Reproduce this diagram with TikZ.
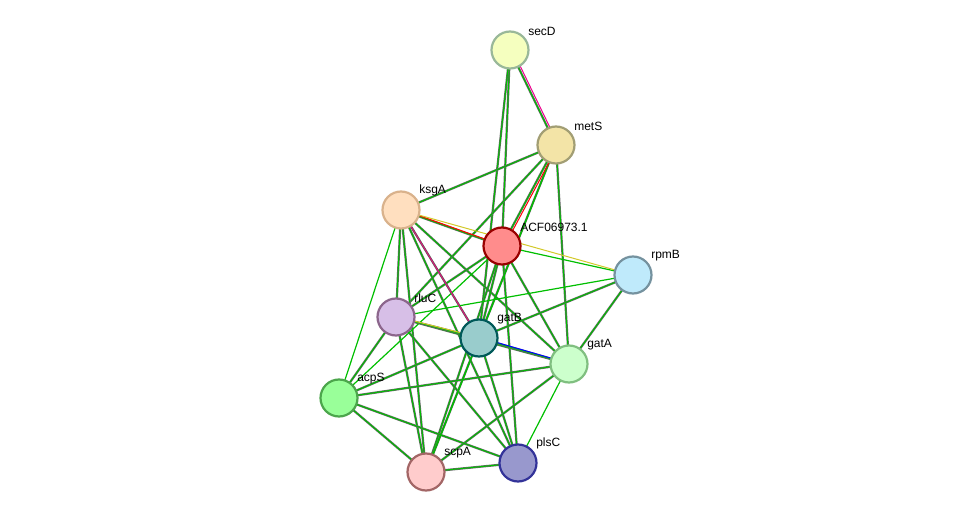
\documentclass[tikz,border=0pt]{standalone}
\usepackage{fontspec}
\setmainfont{Liberation Sans}
\usetikzlibrary{positioning}
\begin{document}
\begin{tikzpicture}[x=0.5pt,y=-0.5pt,
    prot/.style={circle,draw,line width=1.1pt,minimum size=18.5pt,inner sep=0pt},
    lab/.style={font=\fontsize{6}{7}\selectfont,inner sep=1pt},
    lnk/.style={draw=black!60,double=green!75!black,double distance=0.5pt,line width=0.3pt},
    lnkg/.style={draw=green!75!black,line width=0.6pt},
    multi/.style={lnk,postaction={draw=#1,line width=0.5pt,transform canvas={xshift=1.2pt}}}
  ]
  \useasboundingbox (0,0) rectangle (976,518);

  % the proteins
  \foreach \n/\x/\y in {secD/510/50,metS/556/145,ksgA/401/210,acf/502/246,rpmB/633/275,
      rluC/396/317,gatB/479/338,gatA/569/364,acpS/339/398,scpA/426/472,plsC/518/463}
    \coordinate (c\n) at (\x,\y);

  % the links
  \foreach \a/\b in {secD/acf,secD/gatB,metS/ksgA,metS/rluC,metS/gatB,metS/gatA,
      ksgA/rluC,ksgA/gatB,ksgA/gatA,ksgA/scpA,ksgA/plsC,
      acf/rluC,acf/gatB,acf/gatA,acf/plsC,acf/scpA,
      rpmB/gatB,rpmB/gatA,rluC/gatA,rluC/acpS,rluC/scpA,rluC/plsC,
      gatB/acpS,gatB/scpA,gatB/plsC,gatA/acpS,gatA/scpA,acpS/scpA,acpS/plsC,scpA/plsC}
    \draw[lnk] (c\a) -- (c\b);
  \foreach \a/\b in {ksgA/acpS,acf/acpS,gatA/plsC,rpmB/rluC,acf/rpmB,metS/scpA}
    \draw[lnkg] (c\a) -- (c\b);
  \draw[multi=magenta] (csecD) -- (cmetS);
  \draw[multi=red] (cmetS) -- (cacf);
  \draw[multi=red] (cksgA) -- (cacf);
  \draw[multi=blue] (cgatB) -- (cgatA);
  \draw[multi=yellow!80!black] (crluC) -- (cgatB);
  \draw[draw=yellow!80!black,line width=0.5pt] (cksgA) -- (crpmB);
  \draw[draw=magenta,line width=0.5pt] (cksgA) -- (cgatB);

  % the nodes and their names
  \foreach \n/\f/\d/\t in {secD/green!15!yellow!25/green!30!black!40/secD,
      metS/yellow!50!brown!40/yellow!40!black!70/metS,
      ksgA/orange!25/brown!60/ksgA,
      acf/red!45/red!60!black/ACF06973.1,
      rpmB/cyan!25/cyan!40!black!70/rpmB,
      rluC/blue!25!violet!25/violet!50!black!60/rluC,
      gatB/teal!40/teal!70!black/gatB,
      gatA/green!20/green!50!black!50/gatA,
      acpS/green!40/green!50!black!70/acpS,
      scpA/red!20/red!40!black!60/scpA,
      plsC/blue!35!gray!60/blue!50!black!80/plsC}
  {
    \node[prot,fill=\f,draw=\d] (\n) at (c\n) {};
    \node[lab,anchor=south west] (l\n) at ([xshift=1pt,yshift=-1pt]\n.north east) {\t};
  }
\end{tikzpicture}
\end{document}
